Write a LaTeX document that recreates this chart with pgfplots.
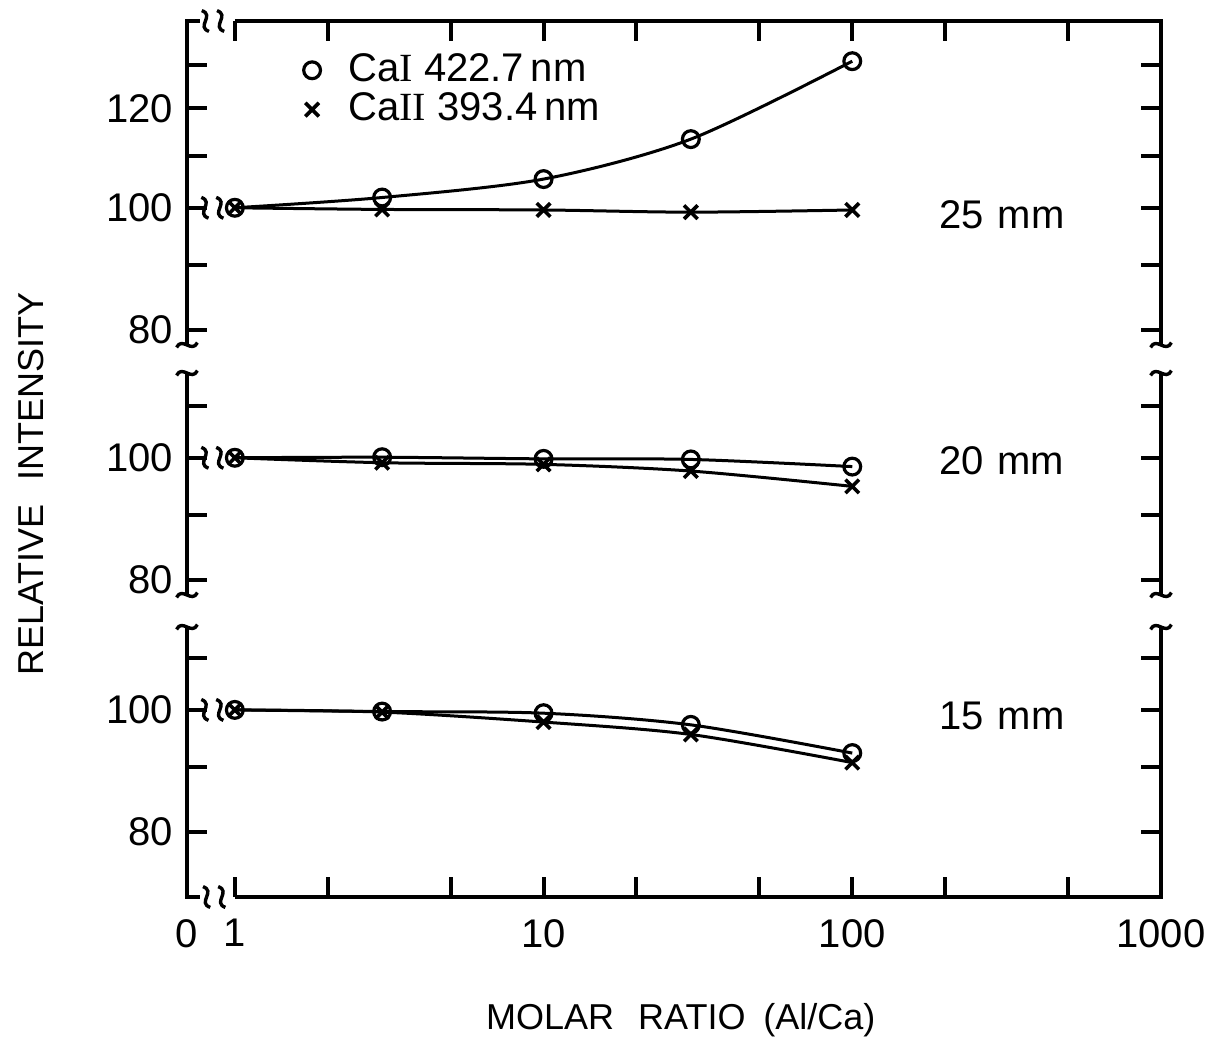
\documentclass[border=0pt]{standalone}
\usepackage{fontspec}
\setmainfont{Liberation Sans}
\newfontfamily\serifnum{Liberation Serif}
\usepackage{pgfplots}
\pgfplotsset{compat=1.18}
\usetikzlibrary{calc}

% break marks
\newcommand{\vsq}[1]{\draw[line width=0.85pt] ($(#1)+(0.9pt,-2.6pt)$) .. controls ($(#1)+(-2.4pt,-1.4pt)$) and ($(#1)+(2.4pt,1.4pt)$) .. ($(#1)+(-0.9pt,2.6pt)$);}
\newcommand{\hsq}[1]{\draw[line width=0.85pt] ($(#1)+(-2.6pt,-0.6pt)$) .. controls ($(#1)+(-1.2pt,2.2pt)$) and ($(#1)+(1.2pt,-2.2pt)$) .. ($(#1)+(2.6pt,0.6pt)$);}

\tikzset{
  ci/.style={black, line width=0.75pt, smooth, mark=o, mark size=2.1pt,
    mark options={fill=white, line width=0.8pt, solid}},
  cii/.style={black, line width=0.75pt, smooth, mark=x, mark size=2.4pt,
    mark options={line width=0.9pt, solid}},
  frame/.style={line width=1pt},
}

\begin{document}
\begin{tikzpicture}
\useasboundingbox (-46.75pt,-36.25pt) rectangle (256pt,224.25pt);

% ---------- 25 mm ----------
\begin{axis}[scale only axis, width=243.5pt, height=81pt,
  xmode=log, ymode=log, xmin=0.7, xmax=1000,
  axis line style={draw=none},
  tick style={line width=1pt, black}, major tick length=5pt,
  xminorticks=false, yminorticks=false, yticklabel pos=left,
  tick label style={font=\fontsize{10}{12}\selectfont},
  /pgf/number format/assume math mode=true, clip=false,
  name=p1, at={(0pt,138pt)}, anchor=south west,
  ymin=77.8, ymax=140.8,
  ytick={80,90,100,110,120,130}, yticklabels={80,,100,,120,},
  xtick={1,2,5,10,20,50,100,200,500,1000}, xtick pos=right, xticklabels={},
  legend style={at={(0.119,0.915)}, anchor=north west,
    draw=none, fill=none, inner sep=0pt, column sep=6pt, row sep=-0.65pt,
    nodes={inner sep=1pt},
    font=\fontsize{10}{12}\selectfont},
  legend cell align=left,
]
\addplot[ci, forget plot] coordinates {(1,100) (3,101.9) (10,105.4) (30,113.4) (100,130.8)};
\addplot[cii, forget plot] coordinates {(1,100) (3,99.7) (10,99.6) (30,99.2) (100,99.6)};
\addlegendimage{only marks, black, mark=o, mark size=2.1pt, mark options={fill=white, line width=0.8pt}}
\addlegendentry{Ca{\serifnum I}\ 422.7\,nm}
\addlegendimage{only marks, black, mark=x, mark size=2.4pt, mark options={line width=0.9pt}}
\addlegendentry{Ca{\serifnum II}\ 393.4\,nm}
\node[font=\fontsize{10}{12}\selectfont] at (axis cs:305,98.7) {25\hspace{3.5pt}mm};
\coordinate (d1a) at (axis cs:0.80,100);
\coordinate (d1b) at (axis cs:0.894,100);
\end{axis}

% ---------- 20 mm ----------
\begin{axis}[scale only axis, width=243.5pt, height=55.5pt,
  xmode=log, ymode=log, xmin=0.7, xmax=1000,
  axis line style={draw=none},
  tick style={line width=1pt, black}, major tick length=5pt,
  xminorticks=false, yminorticks=false, yticklabel pos=left,
  tick label style={font=\fontsize{10}{12}\selectfont},
  /pgf/number format/assume math mode=true, clip=false,
  name=p2, at={(0pt,75.5pt)}, anchor=south west,
  ymin=77.8, ymax=116.8,
  ytick={80,90,100,110}, yticklabels={80,,100,},
  xtick=\empty,
  ylabel={RELATIVE\hspace{6pt}INTENSITY},
  ylabel style={at={(-0.16,0.5)}, anchor=center,
    font=\fontsize{9}{11}\selectfont},
]
\addplot[ci] coordinates {(1,100) (3,100.1) (10,99.8) (30,99.7) (100,98.4)};
\addplot[cii] coordinates {(1,100) (3,99.1) (10,98.8) (30,97.6) (100,94.9)};
\node[font=\fontsize{10}{12}\selectfont] at (axis cs:305,99.4) {20\hspace{3.5pt}mm};
\coordinate (d2a) at (axis cs:0.80,100);
\coordinate (d2b) at (axis cs:0.894,100);
\end{axis}

% ---------- 15 mm ----------
\begin{axis}[scale only axis, width=243.5pt, height=67.5pt,
  xmode=log, ymode=log, xmin=0.7, xmax=1000,
  axis line style={draw=none},
  tick style={line width=1pt, black}, major tick length=5pt,
  xminorticks=false, yminorticks=false, yticklabel pos=left,
  tick label style={font=\fontsize{10}{12}\selectfont},
  /pgf/number format/assume math mode=true, clip=false,
  name=p3, at={(0pt,0pt)}, anchor=south west,
  ymin=71.0, ymax=116.4,
  ytick={80,90,100,110}, yticklabels={80,,100,},
  xtick={1,2,5,10,20,50,100,200,500,1000}, xtick pos=left,
  xticklabels={1,,,10,,,100,,,1000},
  extra x ticks={0.7}, extra x tick labels={0},
  extra x tick style={major tick length=0pt},
  xticklabel style={yshift=-2pt},
  xlabel={MOLAR\hspace{6pt}RATIO\hspace{4.5pt}(Al/Ca)},
  xlabel style={at={(0.507,-0.456)}, anchor=center,
    font=\fontsize{9}{11}\selectfont},
]
\addplot[ci] coordinates {(1,100) (3,99.7) (10,99.4) (30,97.3) (100,92.4)};
\addplot[cii] coordinates {(1,100) (3,99.6) (10,97.8) (30,95.6) (100,90.8)};
\node[font=\fontsize{10}{12}\selectfont] at (axis cs:305,98.9) {15\hspace{3.5pt}mm};
\coordinate (d3a) at (axis cs:0.80,100);
\coordinate (d3b) at (axis cs:0.894,100);
\end{axis}

% ---------- frames with breaks ----------
\draw[frame] (p1.south west) -- (p1.north west) -- ($(p1.north west)+(3.25pt,0)$);
\draw[frame] ($(p1.north west)+(12pt,0)$) -- (p1.north east) -- (p1.south east);
\coordinate (t1) at ($(p1.north west)+(4.6pt,0)$);
\coordinate (t2) at ($(p1.north west)+(8.4pt,0)$);
\vsq{t1}\vsq{t2}
\hsq{p1.south west}\hsq{p1.south east}
\draw[frame] (p2.north west) -- (p2.south west);
\draw[frame] (p2.north east) -- (p2.south east);
\hsq{p2.north west}\hsq{p2.north east}
\hsq{p2.south west}\hsq{p2.south east}
\draw[frame] (p3.north west) -- (p3.south west) -- ($(p3.south west)+(3.25pt,0)$);
\draw[frame] ($(p3.south west)+(12pt,0)$) -- (p3.south east) -- (p3.north east);
\coordinate (b1) at ($(p3.south west)+(4.9pt,0)$);
\coordinate (b2) at ($(p3.south west)+(8.7pt,0)$);
\vsq{b1}\vsq{b2}
\hsq{p3.north west}\hsq{p3.north east}
\vsq{d1a}\vsq{d1b}
\vsq{d2a}\vsq{d2b}
\vsq{d3a}\vsq{d3b}
\end{tikzpicture}
\end{document}
